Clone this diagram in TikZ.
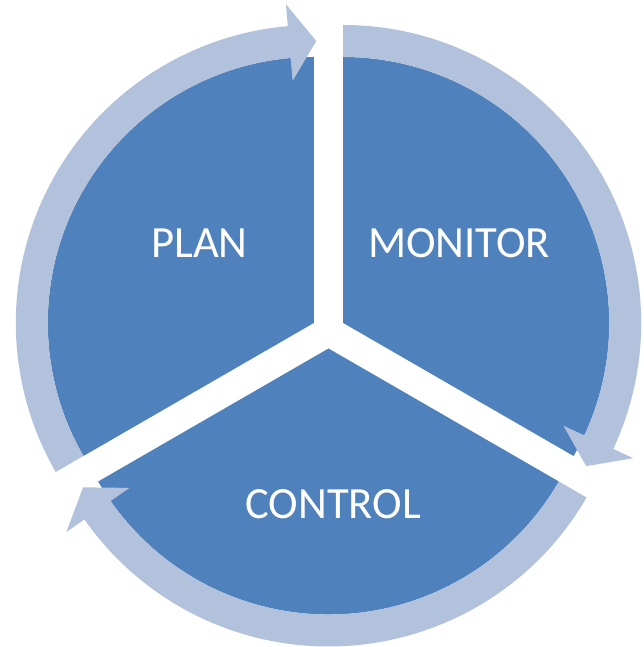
\documentclass[tikz,border=0pt]{standalone}
\usepackage{fontspec}
\setmainfont{Carlito}
\usetikzlibrary{calc}
\definecolor{segblue}{HTML}{4F81BD}
\definecolor{ringblue}{HTML}{B3C2DC}
\tikzset{
  segment/.style={fill=segblue, draw=none},
  ringarrow/.style={fill=ringblue, draw=none},
  label/.style={text=white, font=\fontsize{44.6}{50}\selectfont, inner sep=0pt},
}
% #1 vertex, #2 tail angle, #3 tip angle
\newcommand{\cyclearrow}[3]{%
  \begin{scope}[shift={#1}]
    \pgfmathsetmacro{\tipa}{#3-0.5}
    \pgfmathsetmacro{\backa}{#3+5.0}
    \fill[ringarrow] (#2:266) arc[start angle=#2, end angle=\backa, radius=266]
      -- (\backa:243) -- (\tipa:282) -- (\backa:320) -- (\backa:298)
      arc[start angle=\backa, end angle=#2, radius=298] -- cycle;
  \end{scope}}
\begin{document}
\begin{tikzpicture}[x=1pt,y=1pt]
\useasboundingbox (0,0) rectangle (644,647);
\coordinate (vplan) at (313.8,324);
\coordinate (vmon) at (343.2,324);
\coordinate (vctl) at (328.5,298.5);
% pie segments
\fill[segment] (vplan) -- ++(90:266) arc[start angle=90, end angle=210, radius=266] -- cycle;
\fill[segment] (vmon) -- ++(-30:266) arc[start angle=-30, end angle=90, radius=266] -- cycle;
\fill[segment] (vctl) -- ++(210:266) arc[start angle=210, end angle=330, radius=266] -- cycle;
% circular arrows
\cyclearrow{(vplan)}{210}{90}
\cyclearrow{(vmon)}{90}{-30}
\cyclearrow{(vctl)}{330}{210}
% labels
\node[label] (plan) at (199.5,403.5) {PLAN};
\node[label] (monitor) at (459,403.5) {MONITOR};
\node[label] (control) at (333,143) {CONTROL};
\end{tikzpicture}
\end{document}
